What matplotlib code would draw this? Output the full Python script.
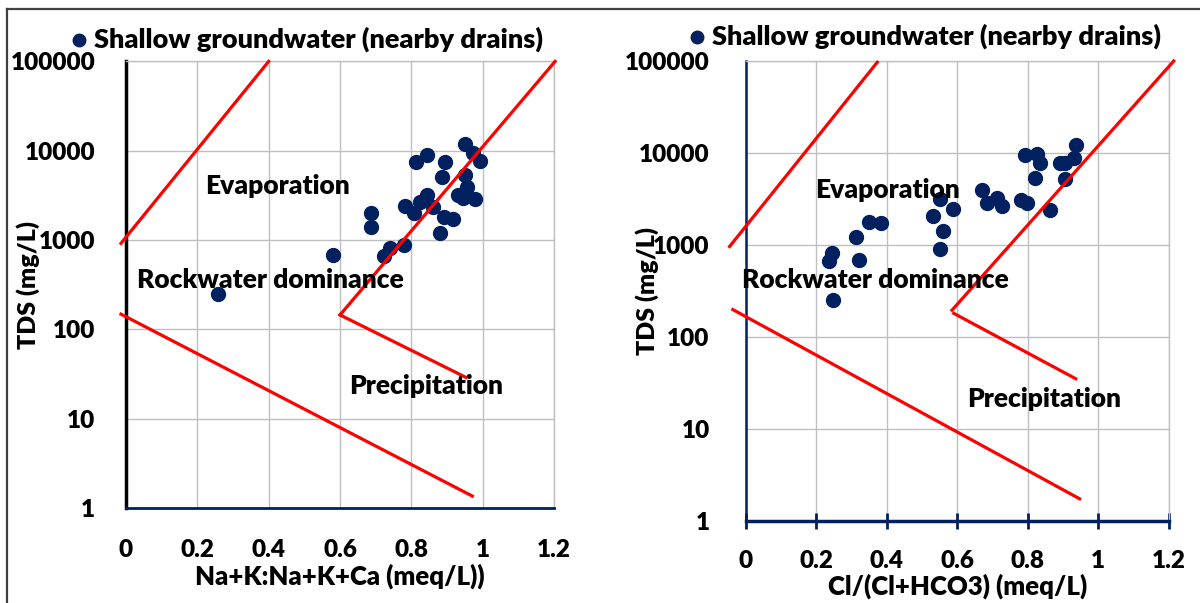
import matplotlib
matplotlib.use("Agg")
import matplotlib.pyplot as plt
from matplotlib.lines import Line2D

plt.rcParams["font.family"] = ["Lato", "DejaVu Sans"]
plt.rcParams["font.weight"] = "heavy"
W = "heavy"

# ── Data ─────────────────────────────────────────────────────────────────────
na_ratio = [0.949, 0.974, 0.993, 0.843, 0.813, 0.895, 0.886, 0.951, 0.956,
            0.932, 0.946, 0.979, 0.843, 0.825, 0.862, 0.781, 0.806, 0.686,
            0.686, 0.892, 0.918, 0.881, 0.780, 0.741, 0.724, 0.579, 0.258]
na_tds = [11900, 9500, 7700, 8960, 7540, 7540, 5120, 5350, 3950,
          3190, 2930, 2860, 3190, 2690, 2360, 2400, 2020, 2020,
          1410, 1790, 1710, 1210, 880, 807, 660, 676, 248]

cl_ratio = [0.552, 0.531, 0.560, 0.552, 0.587, 0.350, 0.383, 0.313, 0.245,
            0.235, 0.322, 0.247, 0.669, 0.685, 0.712, 0.726, 0.780, 0.799,
            0.863, 0.792, 0.825, 0.835, 0.820, 0.891, 0.906, 0.931, 0.937,
            0.906]
cl_tds = [3130, 2060, 1420, 906, 2440, 1760, 1720, 1230, 826,
          676, 687, 250, 3940, 2870, 3200, 2650, 3080, 2870,
          2390, 9610, 9840, 7800, 5280, 7680, 7680, 8920, 12100,
          5150]

# Gibbs boundary lines (x, TDS)
left_upper_x, left_upper_y = [-0.014, 0.40], [919, 100000]
left_evap_x, left_evap_y = [0.60, 1.203], [145, 100000]
left_prec_x, left_prec_y = [0.60, 0.953], [145, 29]
left_lower_x, left_lower_y = [-0.014, 0.971], [148, 1.36]

right_upper_x, right_upper_y = [-0.046, 0.373], [960, 97000]
right_evap_x, right_evap_y = [0.585, 1.214], [195, 100000]
right_prec_x, right_prec_y = [0.59, 0.936], [180, 35]
right_lower_x, right_lower_y = [-0.037, 0.947], [198, 1.73]

x_ticks = [0, 0.2, 0.4, 0.6, 0.8, 1, 1.2]
x_ticklabels = ["0", "0.2", "0.4", "0.6", "0.8", "1", "1.2"]
y_ticks = [1, 10, 100, 1000, 10000, 100000]
y_ticklabels = ["1", "10", "100", "1000", "10000", "100000"]

NAVY = "#002060"
RED = "#ff0000"
GRID = "#bfbfbf"
SERIES = "Shallow groundwater (nearby drains)"

fig = plt.figure(figsize=(12, 6.03), dpi=100)
ax1 = fig.add_axes([0.105, 0.1575, 0.3567, 0.7407])
ax2 = fig.add_axes([0.6215, 0.1365, 0.3525, 0.7623])


def base_style(ax, xlabel, ypad):
    ax.set_yscale("log")
    ax.set_xlim(0, 1.2)
    ax.set_ylim(1, 100000)
    ax.set_xticks(x_ticks)
    ax.set_xticklabels(x_ticklabels)
    ax.set_yticks(y_ticks)
    ax.set_yticklabels(y_ticklabels)
    ax.yaxis.set_minor_locator(matplotlib.ticker.NullLocator())
    ax.grid(True, color=GRID, linewidth=1.0)
    ax.set_axisbelow(True)
    for s in ("top", "right"):
        ax.spines[s].set_color(GRID)
        ax.spines[s].set_linewidth(1.0)
    ax.tick_params(axis="y", length=0, pad=ypad, labelsize=17.5)
    ax.set_xlabel(xlabel, fontsize=18.5, fontweight=W)
    ax.set_ylabel("TDS (mg/L)", fontsize=18, fontweight=W)
    for lbl in ax.get_xticklabels() + ax.get_yticklabels():
        lbl.set_fontweight(W)


def add_lines(ax, pairs):
    for xs, ys in pairs:
        ax.plot(xs, ys, color=RED, linewidth=2.3, clip_on=False, zorder=4)


# ── Left panel ───────────────────────────────────────────────────────────────
base_style(ax1, "Na+K:Na+K+Ca (meq/L))", 22)
ax1.spines["left"].set_color("black")
ax1.spines["left"].set_linewidth(2.5)
ax1.spines["bottom"].set_color(NAVY)
ax1.spines["bottom"].set_linewidth(2.0)
ax1.tick_params(axis="x", length=0, pad=22, labelsize=17.5)
ax1.xaxis.labelpad = 2
ax1.yaxis.set_label_coords(-0.20, 0.5)
ax1.scatter(na_ratio, na_tds, s=100, color=NAVY, zorder=3, label=SERIES)
add_lines(ax1, [(left_upper_x, left_upper_y), (left_evap_x, left_evap_y),
                (left_prec_x, left_prec_y), (left_lower_x, left_lower_y)])
ax1.text(0.222, 4030, "Evaporation", fontsize=19, va="center", zorder=5, fontweight=W)
ax1.text(0.031, 357, "Rockwater dominance", fontsize=19, va="center", zorder=5, fontweight=W)
ax1.text(0.626, 23.2, "Precipitation", fontsize=19, va="center", zorder=5, fontweight=W)
ax1.legend(loc="center", bbox_to_anchor=(0.255, 0.935), bbox_transform=fig.transFigure,
           frameon=False, handletextpad=0.15, handlelength=0.8, markerscale=0.9,
           borderpad=0, prop={"weight": W, "size": 19.5})

# ── Right panel ──────────────────────────────────────────────────────────────
base_style(ax2, "Cl/(Cl+HCO3) (meq/L)", 26)
ax2.spines["left"].set_color(NAVY)
ax2.spines["left"].set_linewidth(1.8)
ax2.spines["bottom"].set_color(NAVY)
ax2.spines["bottom"].set_linewidth(2.5)
ax2.tick_params(axis="x", direction="inout", length=12, width=2.0, color=NAVY,
                pad=15, labelsize=17.5)
ax2.xaxis.labelpad = 1
ax2.yaxis.set_label_coords(-0.205, 0.5)
ax2.scatter(cl_ratio, cl_tds, s=100, color=NAVY, zorder=3, label=SERIES)
add_lines(ax2, [(right_upper_x, right_upper_y), (right_evap_x, right_evap_y),
                (right_prec_x, right_prec_y), (right_lower_x, right_lower_y)])
ax2.text(0.196, 3940, "Evaporation", fontsize=19, va="center", zorder=5, fontweight=W)
ax2.text(-0.011, 418, "Rockwater dominance", fontsize=19, va="center", zorder=5, fontweight=W)
ax2.text(0.627, 20.9, "Precipitation", fontsize=19, va="center", zorder=5, fontweight=W)
ax2.legend(loc="center", bbox_to_anchor=(0.77, 0.94), bbox_transform=fig.transFigure,
           frameon=False, handletextpad=0.15, handlelength=0.8, markerscale=0.9,
           borderpad=0, prop={"weight": W, "size": 19.5})

# chart-area border (top and left edges visible in the reference)
fig.add_artist(Line2D([0.006, 1.0], [0.985, 0.985], color="#404040", linewidth=1.6,
                      transform=fig.transFigure))
fig.add_artist(Line2D([0.006, 0.006], [0.0, 0.985], color="#404040", linewidth=1.6,
                      transform=fig.transFigure))

plt.savefig("out.png", dpi=100)
plt.close()
